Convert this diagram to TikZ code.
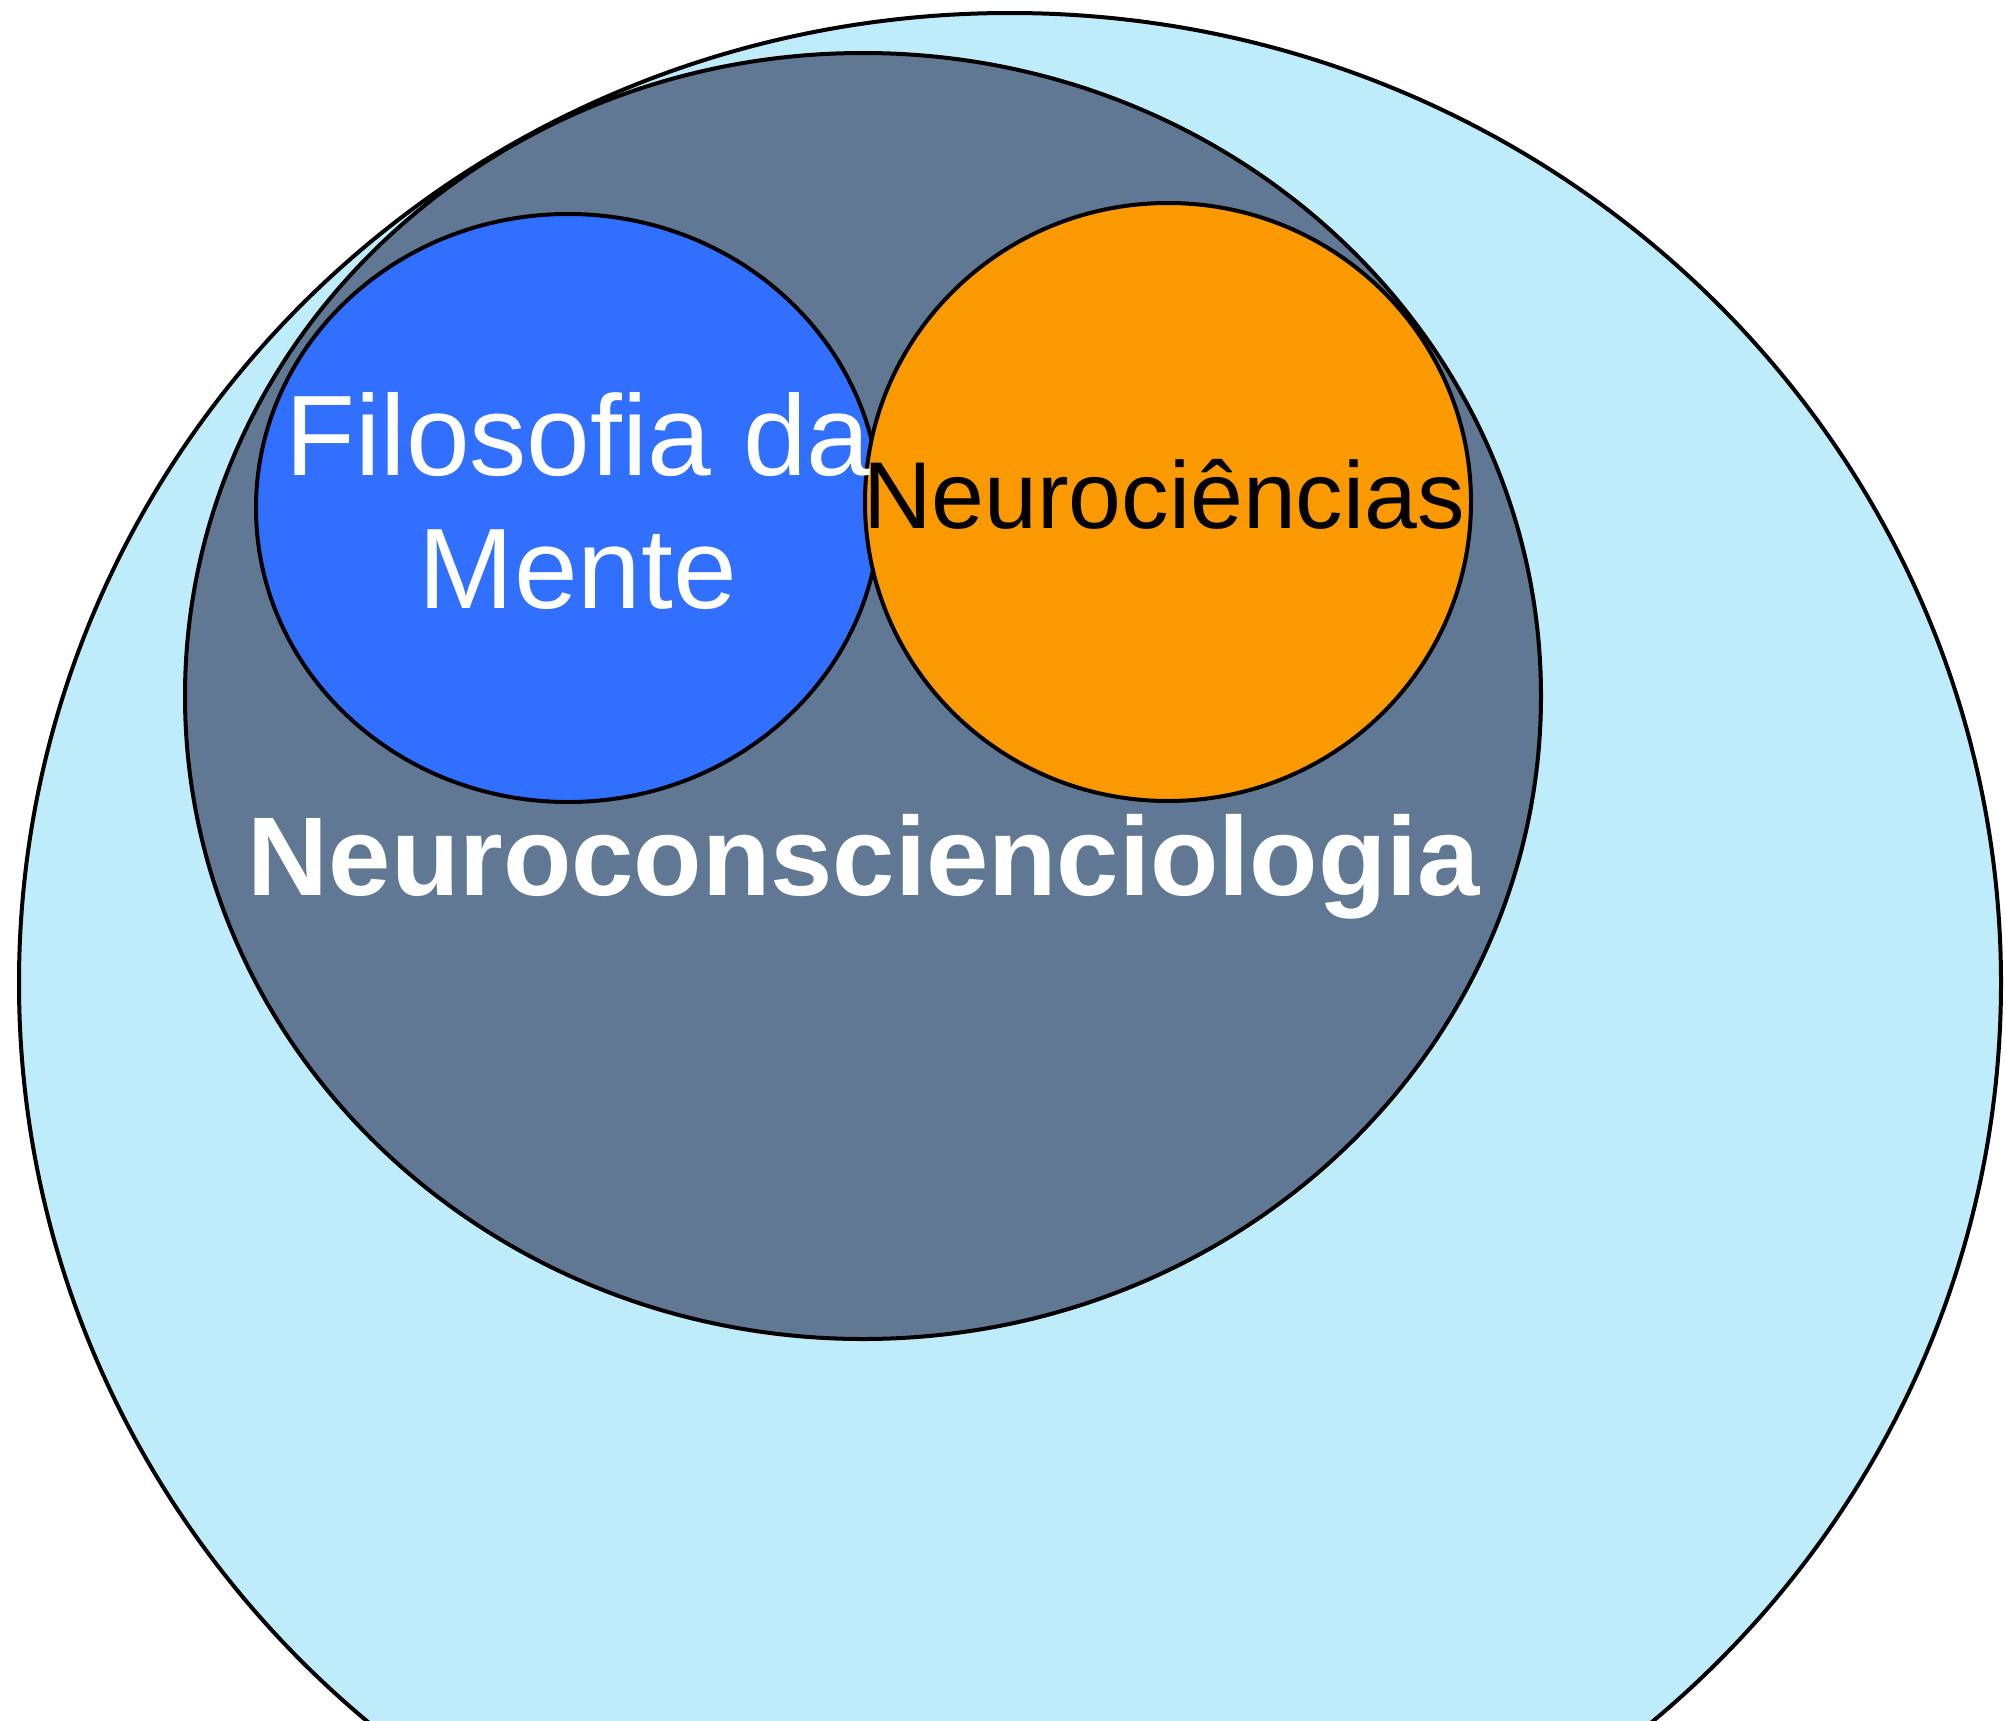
\documentclass[tikz,border=0pt]{standalone}
\usepackage{fontspec}
\setmainfont{Liberation Sans}
\usetikzlibrary{positioning}
\definecolor{skyfill}{RGB}{191,236,251}
\definecolor{slatefill}{RGB}{96,120,147}
\definecolor{mindblue}{RGB}{49,111,255}
\definecolor{neuroorange}{RGB}{251,153,0}
\tikzstyle{every node} = [inner sep=0pt]
\tikzstyle{area} = [draw=black, line width=4pt]

\begin{document}
\begin{tikzpicture}[x=1pt, y=-1pt]
        \useasboundingbox (0,0) rectangle (2006,1721);
        \clip (0,0) rectangle (2006,1721);

        \fill[white] (0,0) rectangle (2006,1721);
        \draw[area, fill=skyfill] (1010,983) ellipse [x radius=991, y radius=970];
        \draw[area, fill=slatefill] (863,696) ellipse [x radius=678, y radius=643];
        \draw[area, fill=mindblue] (568,508) ellipse [x radius=312, y radius=294];
        \draw[area, fill=neuroorange] (1168,502) ellipse [x radius=303, y radius=299];

        \node[text=white, align=center, anchor=base, font=\fontsize{114.5}{133}\selectfont] (mente) at (578,608) {Filosofia da\\Mente};
        \node[text=black, anchor=base, font=\fontsize{95}{110}\selectfont] (neuro) at (1164,528) {Neurociências};
        \node[text=white, anchor=base, font=\fontsize{112}{130}\selectfont\bfseries] (ncc) at (864,895) {Neuroconscienciologia};
    \end{tikzpicture}
\end{document}
